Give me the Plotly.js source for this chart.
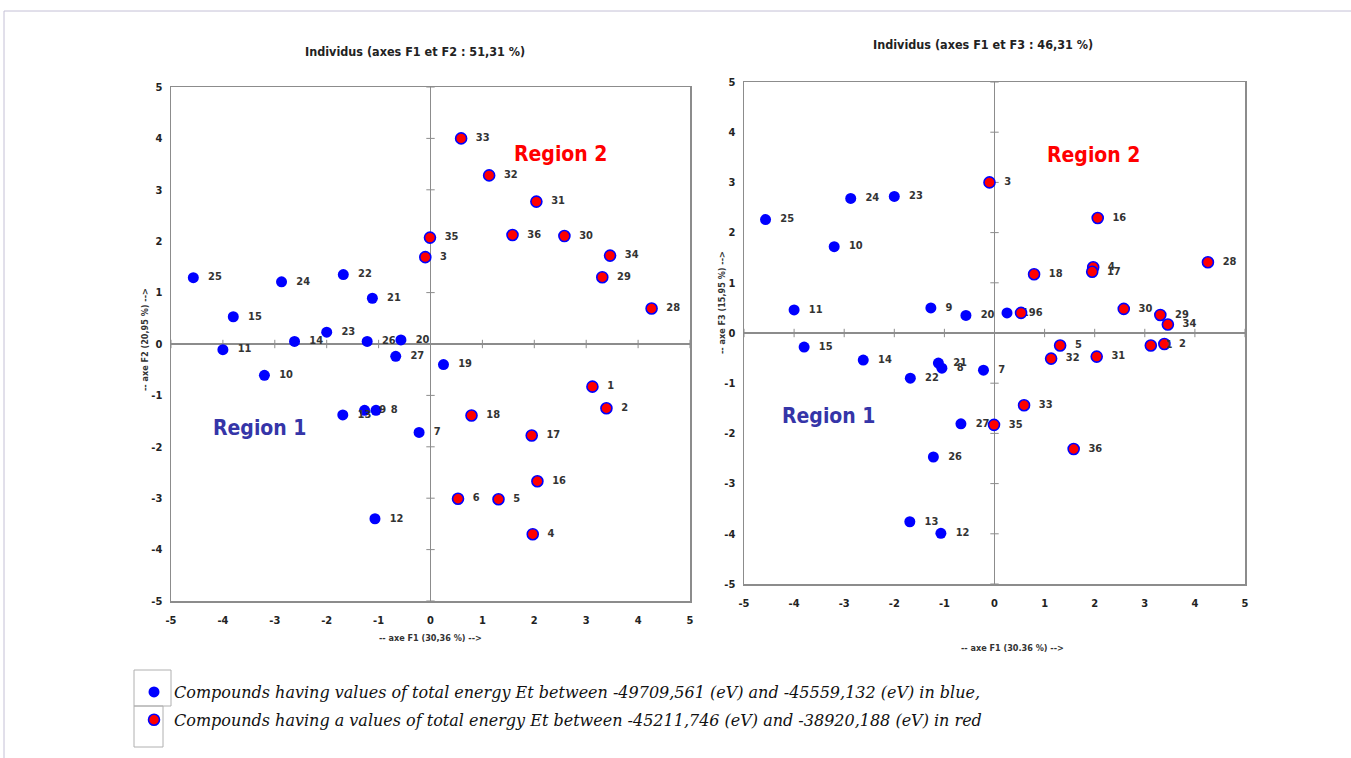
<!DOCTYPE html>
<html>
<head>
<meta charset="utf-8">
<script src="https://cdn.plot.ly/plotly-3.0.1.min.js"></script>
<style>html,body{margin:0;padding:0;background:#fff;}#chart{width:1351px;height:758px;}</style>
</head>
<body>
<div id="chart"></div>
<script>
// ---------- data ----------
const tickValues = [-5, -4, -3, -2, -1, 0, 1, 2, 3, 4, 5];
const tickLabels = ['-5', '-4', '-3', '-2', '-1', '0', '1', '2', '3', '4', '5'];

// Blue compounds (Et between -49709,561 and -45559,132 eV)
const blueIds = ['7', '8', '9', '10', '11', '12', '13', '14', '15', '19', '20', '21', '22', '23', '24', '25', '26', '27'];
const blueF1 = [-0.22, -1.05, -1.27, -3.20, -4.00, -1.07, -1.69, -2.62, -3.80, 0.25, -0.57, -1.12, -1.68, -2.00, -2.87, -4.57, -1.22, -0.67];
const blueF2 = [-1.72, -1.29, -1.29, -0.61, -0.11, -3.40, -1.38, 0.05, 0.53, -0.40, 0.08, 0.89, 1.35, 0.23, 1.21, 1.29, 0.05, -0.24];
const blueF3 = [-0.74, -0.70, 0.50, 1.72, 0.46, -3.99, -3.76, -0.54, -0.28, 0.40, 0.35, -0.60, -0.90, 2.72, 2.68, 2.26, -2.47, -1.81];

// Red compounds (Et between -45211,746 and -38920,188 eV)
const redIds = ['1', '2', '3', '4', '5', '6', '16', '17', '18', '28', '29', '30', '31', '32', '33', '34', '35', '36'];
const redF1 = [3.12, 3.39, -0.10, 1.97, 1.31, 0.53, 2.06, 1.95, 0.79, 4.26, 3.31, 2.58, 2.04, 1.13, 0.59, 3.46, -0.01, 1.58];
const redF2 = [-0.83, -1.25, 1.69, -3.70, -3.02, -3.01, -2.67, -1.78, -1.39, 0.69, 1.30, 2.10, 2.77, 3.28, 4.00, 1.72, 2.07, 2.12];
const redF3 = [-0.25, -0.22, 3.00, 1.31, -0.25, 0.40, 2.29, 1.22, 1.17, 1.41, 0.36, 0.48, -0.47, -0.51, -1.44, 0.17, -1.83, -2.31];

const blueLegend = 'Compounds having values of total energy Et between -49709,561 (eV) and -45559,132 (eV) in blue,';
const redLegend = 'Compounds having a values of total energy Et between -45211,746 (eV) and -38920,188 (eV) in red';

// ---------- style ----------
const NARROW = '"DejaVu Sans Condensed", "Liberation Sans", sans-serif';
const BLUE = '#0000ff';
const RED = '#ff0000';
const GREY = '#8c8c8c';
const pad = s => '\u00a0\u00a0' + s;

function pointTrace(xs, ys, ids, color, xa, ya, name, group, showleg) {
  const isRed = color === RED;
  return {
    type: 'scatter', mode: 'markers+text', x: xs, y: ys,
    text: ids.map(pad), textposition: 'middle right',
    textfont: {family: NARROW, size: 11, color: '#333333', weight: 'bold'},
    marker: {size: 11, color: color, line: {color: BLUE, width: isRed ? 1.6 : 0}},
    xaxis: xa, yaxis: ya, name: name, legendgroup: group, showlegend: showleg,
    cliponaxis: false, hoverinfo: 'x+y+text'
  };
}

function zeroTicks(xa, ya) {
  const zeros = tickValues.map(() => 0);
  return [
    {type: 'scatter', mode: 'markers', x: zeros, y: tickValues, xaxis: xa, yaxis: ya,
     marker: {symbol: 'line-ew', size: 6, line: {color: GREY, width: 1}}, showlegend: false, hoverinfo: 'skip'},
    {type: 'scatter', mode: 'markers', x: tickValues, y: zeros, xaxis: xa, yaxis: ya,
     marker: {symbol: 'line-ns', size: 6, line: {color: GREY, width: 1}}, showlegend: false, hoverinfo: 'skip'}
  ];
}

const data = [
  ...zeroTicks('x', 'y'),
  ...zeroTicks('x2', 'y2'),
  pointTrace(blueF1, blueF2, blueIds, BLUE, 'x', 'y', blueLegend, 'b', true),
  pointTrace(redF1, redF2, redIds, RED, 'x', 'y', redLegend, 'r', true),
  pointTrace(blueF1, blueF3, blueIds, BLUE, 'x2', 'y2', blueLegend, 'b', false),
  pointTrace(redF1, redF3, redIds, RED, 'x2', 'y2', redLegend, 'r', false)
];

function axis(domain, anchor, isX) {
  return {
    domain: domain, anchor: anchor, range: [-5, 5],
    tickmode: 'array', tickvals: tickValues, ticktext: tickLabels,
    showgrid: false, zeroline: true, zerolinecolor: GREY, zerolinewidth: 1.5,
    showline: true, mirror: true, linecolor: GREY, linewidth: 1.5,
    ticks: '', ticklabelstandoff: isX ? 8 : 5,
    tickfont: {family: NARROW, size: 11, color: '#222222', weight: 'bold'},
    fixedrange: true
  };
}

const W = 1351, H = 758;
const px = v => v / W;
const py = v => 1 - v / H;

const titleFont = {family: NARROW, size: 12.5, color: '#222222', weight: 'bold'};
const axTitleFont = {family: NARROW, size: 9, color: '#333333', weight: 'bold'};
const regionFont = (c) => ({family: NARROW, size: 21, color: c, weight: 'bold'});

function note(text, x, y, extra) {
  return Object.assign({text: text, xref: 'paper', yref: 'paper', x: x, y: y,
    xanchor: 'center', yanchor: 'middle', showarrow: false}, extra);
}

const annotations = [
  note('Individus (axes F1 et F2 : 51,31 %)', px(415), py(52), {font: titleFont}),
  note('Individus (axes F1 et F3 : 46,31 %)', px(983), py(44), {font: titleFont}),
  note('-- axe F1 (30,36 %) --&gt;', px(430), py(638), {font: axTitleFont}),
  note('-- axe F2 (20,95 %) --&gt;', px(145), py(340), {font: axTitleFont, textangle: -90}),
  note('-- axe F1 (30.36 %) --&gt;', px(1012), py(648), {font: axTitleFont}),
  note('-- axe F3 (15,95 %) --&gt;', px(722), py(303), {font: axTitleFont, textangle: -90}),
  {text: 'Region 2', xref: 'x', yref: 'y', x: 2.51, y: 3.70, xanchor: 'center', yanchor: 'middle', showarrow: false, font: regionFont('#ff0000')},
  {text: 'Region 1', xref: 'x', yref: 'y', x: -3.29, y: -1.63, xanchor: 'center', yanchor: 'middle', showarrow: false, font: regionFont('#3535a8')},
  {text: 'Region 2', xref: 'x2', yref: 'y2', x: 1.98, y: 3.55, xanchor: 'center', yanchor: 'middle', showarrow: false, font: regionFont('#ff0000')},
  {text: 'Region 1', xref: 'x2', yref: 'y2', x: -3.31, y: -1.65, xanchor: 'center', yanchor: 'middle', showarrow: false, font: regionFont('#3535a8')}
];

const shapes = [
  {type: 'line', xref: 'paper', yref: 'paper', x0: px(4), x1: 1, y0: py(11), y1: py(11), line: {color: '#c4c0d6', width: 1}},
  {type: 'line', xref: 'paper', yref: 'paper', x0: px(4), x1: px(4), y0: 0, y1: py(11), line: {color: '#c4c0d6', width: 1}},
  {type: 'rect', xref: 'paper', yref: 'paper', x0: px(134), x1: px(171), y0: py(706), y1: py(670), line: {color: '#b0b0b0', width: 1}},
  {type: 'rect', xref: 'paper', yref: 'paper', x0: px(134), x1: px(163), y0: py(747), y1: py(706), line: {color: '#b0b0b0', width: 1}}
];

const layout = {
  width: W, height: H, margin: {l: 0, r: 0, t: 0, b: 0},
  paper_bgcolor: '#ffffff', plot_bgcolor: '#ffffff',
  xaxis: axis([px(171), px(690)], 'y', true),
  yaxis: axis([py(601), py(87)], 'x', false),
  xaxis2: axis([px(744), px(1245)], 'y2', true),
  yaxis2: axis([py(584), py(82)], 'x2', false),
  showlegend: true,
  legend: {
    x: px(134), y: py(675), xanchor: 'left', yanchor: 'top',
    bgcolor: 'rgba(0,0,0,0)', borderwidth: 0, tracegroupgap: 4,
    font: {family: '"DejaVu Serif", "Liberation Serif", serif', size: 16, style: 'italic', color: '#111111'},
    itemclick: false, itemdoubleclick: false
  },
  annotations: annotations,
  shapes: shapes
};

Plotly.newPlot('chart', data, layout, {displayModeBar: false, staticPlot: true});
</script>
</body>
</html>
